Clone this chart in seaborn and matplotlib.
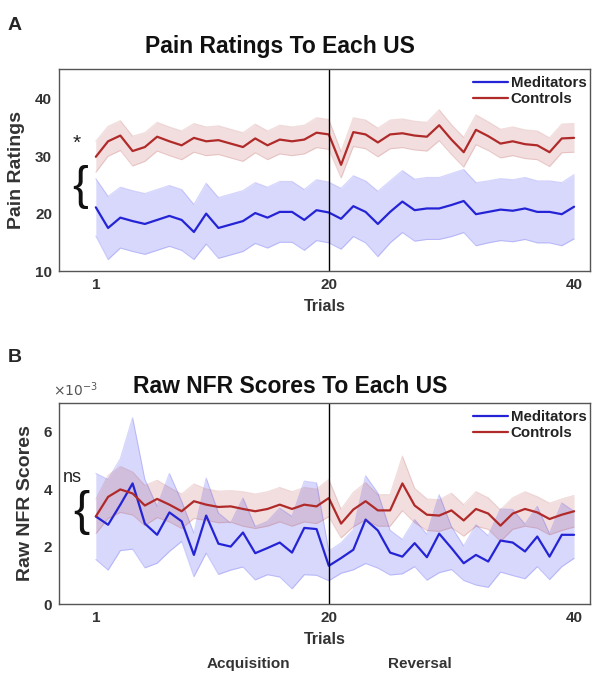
import numpy as np
import matplotlib
matplotlib.use("Agg")
import matplotlib.pyplot as plt
import seaborn as sns

trials = np.arange(1, 41)

# pain ratings (mean and SEM per trial)
pain_med = [21.1, 17.5, 19.3, 18.7, 18.2, 18.9, 19.6, 18.9, 16.8, 20.0,
            17.5, 18.1, 18.7, 20.1, 19.3, 20.3, 20.3, 18.9, 20.6, 20.2,
            19.1, 21.3, 20.3, 18.2, 20.3, 22.1, 20.6, 20.9, 20.9, 21.5,
            22.2, 19.9, 20.3, 20.7, 20.5, 20.9, 20.3, 20.3, 19.9, 21.2]
pain_med_sem = [5.0, 5.5, 5.3, 5.3, 5.3, 5.3, 5.3, 5.3, 4.8, 5.3,
                5.3, 5.3, 5.3, 5.3, 5.3, 5.3, 5.3, 5.3, 5.3, 5.3,
                5.3, 5.3, 5.4, 5.7, 5.4, 5.4, 5.4, 5.4, 5.4, 5.5,
                5.5, 5.5, 5.4, 5.4, 5.4, 5.4, 5.4, 5.4, 5.5, 5.6]
pain_ctl = [29.9, 32.6, 33.6, 30.9, 31.6, 33.4, 32.6, 31.9, 33.2, 32.6,
            32.8, 32.2, 31.6, 33.1, 31.9, 32.9, 32.6, 32.9, 34.1, 33.8,
            28.5, 34.2, 33.8, 32.4, 33.8, 34.0, 33.6, 33.4, 35.4, 32.9,
            30.7, 34.6, 33.5, 32.2, 32.6, 32.1, 31.9, 30.7, 33.1, 33.2]
pain_ctl_sem = [2.7, 2.6, 2.6, 2.6, 2.5, 2.5, 2.5, 2.5, 2.5, 2.5,
                2.5, 2.5, 2.5, 2.5, 2.5, 2.5, 2.5, 2.5, 2.6, 2.6,
                2.3, 2.5, 2.5, 2.5, 2.5, 2.5, 2.5, 2.5, 2.7, 2.6,
                2.6, 2.6, 2.5, 2.5, 2.5, 2.5, 2.5, 2.5, 2.5, 2.5]

# raw NFR scores, in units of 1e-3
nfr_med = [3.05, 2.76, 3.46, 4.20, 2.80, 2.41, 3.19, 2.88, 1.71, 3.08,
           2.10, 2.00, 2.49, 1.77, 1.95, 2.14, 1.79, 2.65, 2.61, 1.33,
           1.60, 1.89, 2.94, 2.56, 1.79, 1.65, 2.12, 1.63, 2.45, 1.95,
           1.42, 1.71, 1.48, 2.21, 2.14, 1.83, 2.35, 1.65, 2.41, 2.41]
nfr_med_sem = [1.50, 1.58, 1.60, 2.29, 1.54, 0.99, 1.36, 0.70, 0.76, 1.31,
               1.07, 0.82, 1.20, 0.93, 0.93, 1.20, 1.26, 1.63, 1.61, 0.52,
               0.53, 0.70, 1.53, 1.31, 0.78, 0.60, 0.82, 0.80, 1.36, 0.75,
               0.60, 1.05, 0.90, 1.10, 1.15, 0.95, 1.05, 0.80, 1.11, 0.82]
nfr_ctl = [3.05, 3.73, 3.99, 3.85, 3.43, 3.66, 3.46, 3.23, 3.58, 3.46,
           3.38, 3.40, 3.31, 3.23, 3.31, 3.46, 3.31, 3.46, 3.40, 3.69,
           2.80, 3.29, 3.58, 3.26, 3.26, 4.20, 3.43, 3.11, 3.08, 3.26,
           2.91, 3.31, 3.15, 2.73, 3.15, 3.31, 3.19, 2.96, 3.11, 3.23]
nfr_ctl_sem = [0.60, 0.75, 0.80, 0.75, 0.70, 0.65, 0.60, 0.60, 0.60, 0.55,
               0.55, 0.55, 0.60, 0.60, 0.60, 0.60, 0.60, 0.60, 0.60, 0.65,
               0.50, 0.60, 0.65, 0.55, 0.55, 0.95, 0.60, 0.55, 0.55, 0.60,
               0.55, 0.60, 0.55, 0.55, 0.55, 0.60, 0.55, 0.55, 0.55, 0.55]

xticks = [1, 20, 40]
groups = ["Meditators", "Controls"]

sns.set_theme(style="white")
plt.rcParams['font.family'] = ['Liberation Sans', 'DejaVu Sans']

blue = "#2424d6"
red = "#b02a2a"
txt = "#333333"

fig = plt.figure(figsize=(5.95, 6.73), dpi=100)
ax1 = fig.add_axes([0.0992, 0.5973, 0.8924, 0.3002])
ax2 = fig.add_axes([0.0992, 0.1025, 0.8924, 0.2987])


def shaded(ax, mean, sem, color, fill, label, scale=1.0):
    m = np.array(mean) * scale
    s = np.array(sem) * scale
    ax.fill_between(trials, m - s, m + s, color=fill, alpha=0.17, lw=0)
    ax.plot(trials, m - s, color=fill, alpha=0.18, lw=0.8)
    ax.plot(trials, m + s, color=fill, alpha=0.18, lw=0.8)
    sns.lineplot(x=trials, y=m, color=color, lw=1.6, ax=ax, label=label)


def style(ax):
    ax.set_xlim(-2, 41.3)
    ax.axvline(20, color="black", lw=1)
    ax.set_xticks(xticks)
    ax.tick_params(length=0, labelsize=11, labelcolor=txt, pad=5)
    for lab in ax.get_xticklabels() + ax.get_yticklabels():
        lab.set_fontweight("bold")
    for sp in ax.spines.values():
        sp.set_visible(True)
        sp.set_color("#555555")
        sp.set_linewidth(1.0)
    ax.set_xlabel("Trials", fontsize=11.5, fontweight="bold", color=txt, labelpad=5)
    leg = ax.legend(loc="upper right", bbox_to_anchor=(0.993, 0.965), frameon=False,
                    borderpad=0, borderaxespad=0, handlelength=2.3, handletextpad=0.2,
                    labelspacing=0.15, prop={"weight": "bold", "size": 10.8})
    for t in leg.get_texts():
        t.set_color("#222222")


# panel A
shaded(ax1, pain_med, pain_med_sem, blue, (0.1, 0.1, 0.95), groups[0])
shaded(ax1, pain_ctl, pain_ctl_sem, red, (0.7, 0.25, 0.25), groups[1])
ax1.set_ylim(10, 45.2)
ax1.set_yticks([10, 20, 30, 40])
style(ax1)
ax1.set_ylabel("Pain Ratings", fontsize=14, fontweight="bold", color=txt, labelpad=7)
ax1.text(-0.6, 32.3, "*", fontsize=15, ha="center", va="center", color="#222222")
ax1.text(-0.25, 24.7, "{", fontsize=34, ha="center", va="center", color="#111111")

# panel B
shaded(ax2, nfr_med, nfr_med_sem, blue, (0.1, 0.1, 0.95), groups[0], scale=1e-3)
shaded(ax2, nfr_ctl, nfr_ctl_sem, red, (0.7, 0.25, 0.25), groups[1], scale=1e-3)
ax2.set_ylim(0, 0.007)
ax2.set_yticks([0, 0.002, 0.004, 0.006])
ax2.set_yticklabels(["0", "2", "4", "6"])
style(ax2)
ax2.set_ylabel("Raw NFR Scores", fontsize=14, fontweight="bold", color=txt, labelpad=7)
ax2.text(-0.9, 0.00441, "ns", fontsize=13, ha="center", va="center", color="#222222")
ax2.text(-0.15, 0.00318, "{", fontsize=35, ha="center", va="center", color="#111111")
fig.text(53 / 595, 1 - 390 / 673, r"$\times10^{-3}$", fontsize=10, color="#555555",
         ha="left", va="center")

# titles and panel letters
fig.text(280 / 595, 1 - 47 / 673, "Pain Ratings To Each US", fontsize=16.5,
         fontweight="bold", ha="center", va="center", color="#111111")
fig.text(290 / 595, 1 - 387 / 673, "Raw NFR Scores To Each US", fontsize=16.5,
         fontweight="bold", ha="center", va="center", color="#111111")
fig.text(8 / 595, 1 - 25 / 673, "A", fontsize=14, fontweight="bold", va="center")
fig.text(8 / 595, 1 - 357 / 673, "B", fontsize=14, fontweight="bold", va="center")

fig.text(248 / 595, 1 - 664 / 673, "Acquisition", fontsize=11, fontweight="bold",
         ha="center", va="center", color=txt)
fig.text(420 / 595, 1 - 664 / 673, "Reversal", fontsize=11, fontweight="bold",
         ha="center", va="center", color=txt)

fig.savefig("out.png", dpi=100)
